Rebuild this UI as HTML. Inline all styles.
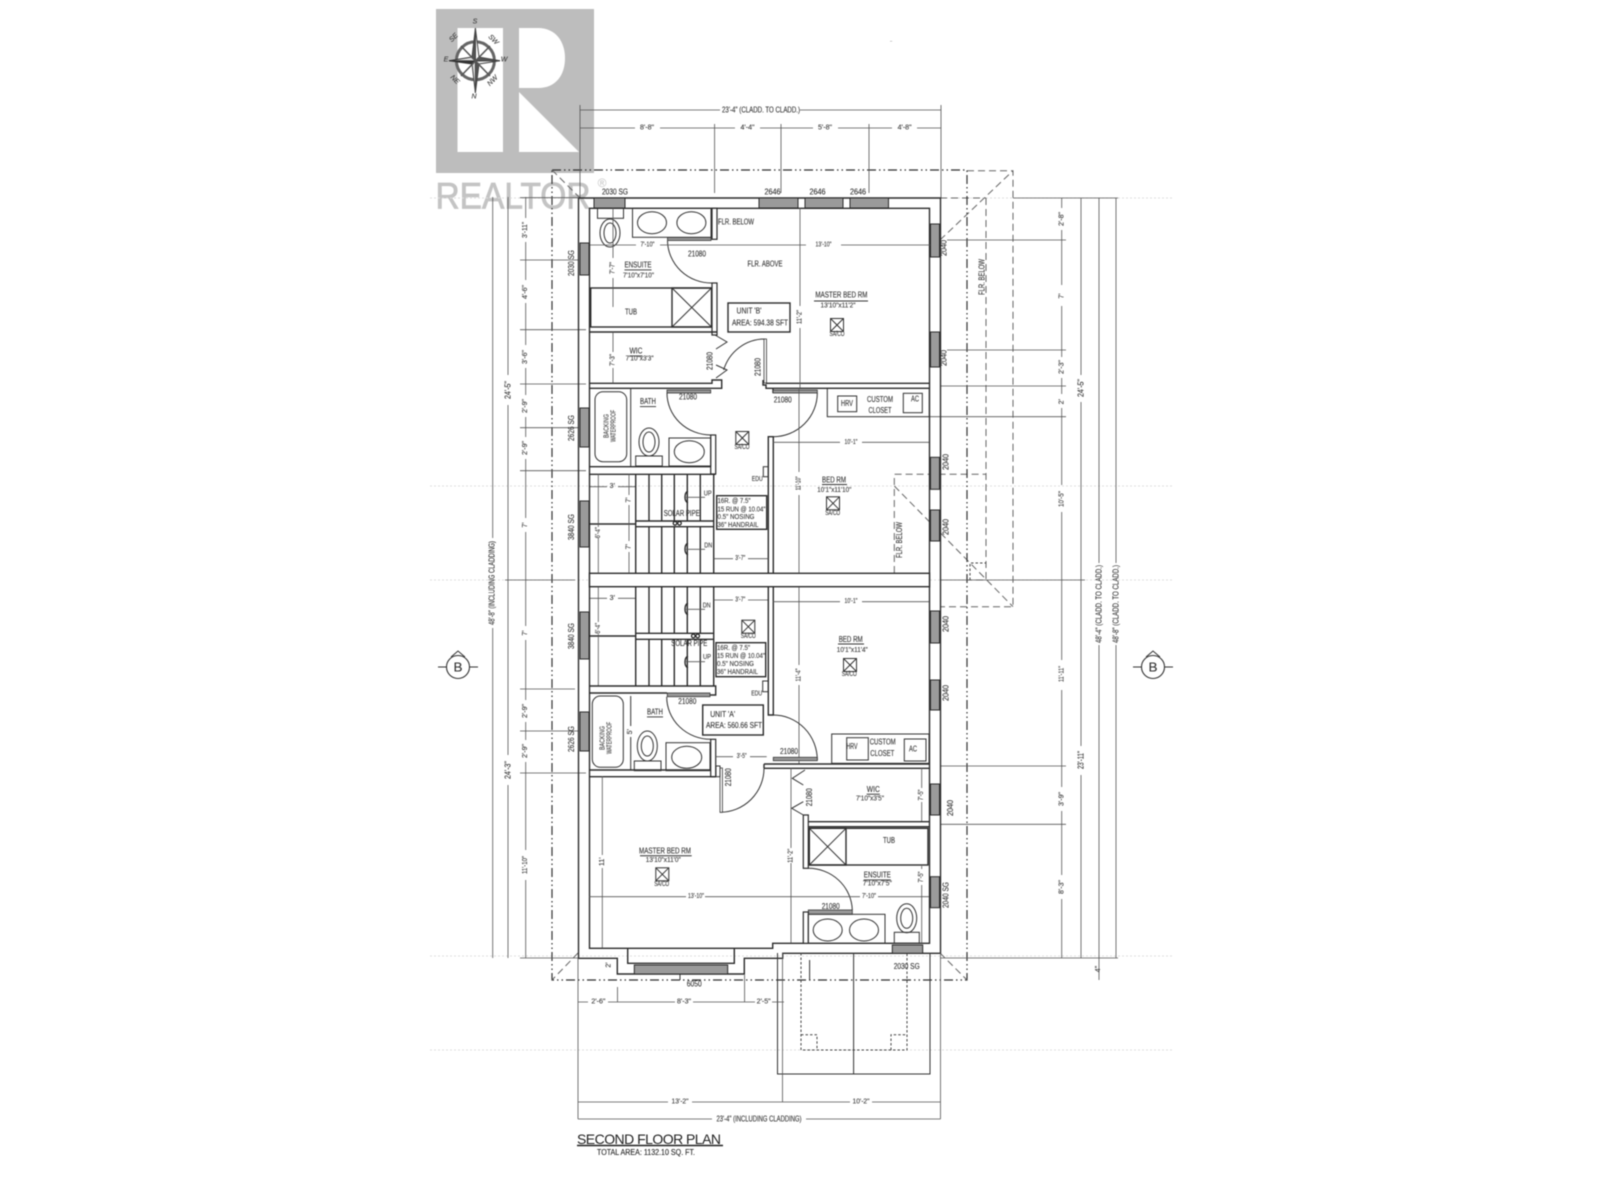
<!DOCTYPE html>
<html><head><meta charset="utf-8"><title>Second Floor Plan</title>
<style>
html,body{margin:0;padding:0;background:#fff;width:1600px;height:1200px;overflow:hidden}
svg{display:block;filter:blur(.4px)}
text{font-family:"Liberation Sans",sans-serif;fill:#333;stroke:#333;stroke-width:.12;font-size:8px;dominant-baseline:central;text-anchor:middle}
.s{font-size:7px;fill:#444}
.st{text-anchor:start}
.w{fill:none;stroke:#2b2b2b;stroke-width:1.4}
.t{fill:none;stroke:#333;stroke-width:1}
.d{fill:none;stroke:#555;stroke-width:.8}
.f{fill:#fff;stroke:#2b2b2b;stroke-width:1.2}
.win{fill:#9a9a9a;stroke:#2b2b2b;stroke-width:1}
.dot{fill:none;stroke:#ddd;stroke-width:1;stroke-dasharray:2 2}
.dd{fill:none;stroke:#666;stroke-width:1;stroke-dasharray:7 4}
.dc{fill:none;stroke:#333;stroke-width:1.2;stroke-dasharray:9 3 1.5 3 1.5 3}
.sd{fill:none;stroke:#444;stroke-width:1;stroke-dasharray:2.5 2}
</style></head><body>
<svg width="1600" height="1200" viewBox="0 0 1600 1200" xmlns="http://www.w3.org/2000/svg">
<rect width="1600" height="1200" fill="#fff"/>
<!-- logo -->
<rect x="436" y="9" width="158" height="164" fill="#bdbdbd"/>
<rect x="457.5" y="28" width="45.5" height="124" fill="#fff"/>
<path d="M519 28H538C556 28 565 42 565 58C565 75 556 88 538 88H519Z" fill="#fff"/>
<path d="M519 92L579 152H519Z" fill="#fff"/>
<text x="513" y="196" style="font-size:37px;fill:#c4c4c4;stroke:#c4c4c4;stroke-width:.8" textLength="155" lengthAdjust="spacingAndGlyphs">REALTOR</text>
<text x="602" y="183" style="font-size:12px;fill:#c4c4c4;stroke:none">®</text>
<!-- compass -->
<circle cx="475.4" cy="60.7" r="19" fill="none" stroke="#666" stroke-width="3"/>
<polygon points="475.4,28 479,57 475.4,61" fill="#fff" stroke="#444"/>
<polygon points="475.4,28 472,57 475.4,61" fill="#555" stroke="#444"/>
<polygon points="475.4,93 479,64 475.4,61" fill="#555" stroke="#444"/>
<polygon points="475.4,93 472,64 475.4,61" fill="#ddd" stroke="#444"/>
<polygon points="449,60.7 472,57 475.4,61" fill="#ddd" stroke="#333"/>
<polygon points="449,60.7 472,64 475.4,61" fill="#333" stroke="#333"/>
<polygon points="500,60.7 479,57 475.4,61" fill="#555" stroke="#444"/>
<polygon points="500,60.7 479,64 475.4,61" fill="#eee" stroke="#444"/>
<path d="M461 46L475.4 61L490 46M461 76L475.4 61L490 76" fill="none" stroke="#555" stroke-width="1.5"/>
<g style="font-style:italic">
<text x="475" y="22" class="s">S</text><text x="474" y="97" class="s">N</text><text x="446" y="60" class="s">E</text><text x="504" y="60" class="s">W</text>
<text x="454" y="38" class="s" transform="rotate(-45 454 38)">SE</text><text x="493" y="40" class="s" transform="rotate(45 493 40)">SW</text>
<text x="454.6" y="80" class="s" transform="rotate(45 454.6 80)">NE</text><text x="493" y="81" class="s" transform="rotate(-45 493 81)">NW</text>
</g>
<text x="891" y="41" class="s" style="font-size:4px">~</text>

<!-- dotted reference lines -->
<path class="dot" d="M430 198H1173M430 486H1173M430 580H1173M430 956H1173M430 1050H1173"/>

<!-- dashed outline, right side -->
<path class="dd" d="M967 170.7H1013V606.7H940M986 198V580H967M940 198H986M894.3 573V474.3H986"/>
<path class="dd" d="M940 240L1013 170.7M894.3 486L1013 606.7"/>
<path class="sd" d="M970 580V563H986"/>
<path class="dc" d="M552 170H967V980H552Z"/>
<path class="dd" d="M552 170L580 198M578 953L552 980M940 953L967 980"/>

<!-- top dims -->
<path class="d" d="M580 110H720M800 110H941M580 128H635M660 128H735M760 128H813M838 128H892M917 128H941M580 105V198M941 105V198M714.6 124V193M781 124V193M869 124V193"/>
<text x="761" y="110" textLength="78" lengthAdjust="spacingAndGlyphs">23'-4" (CLADD. TO CLADD.)</text>
<text x="647" y="128" textLength="14" lengthAdjust="spacingAndGlyphs" class="s">8'-8"</text>
<text x="747.5" y="128" textLength="14" lengthAdjust="spacingAndGlyphs" class="s">4'-4"</text>
<text x="825" y="128" textLength="14" lengthAdjust="spacingAndGlyphs" class="s">5'-8"</text>
<text x="904.6" y="128" textLength="14" lengthAdjust="spacingAndGlyphs" class="s">4'-8"</text>
<text x="615" y="192" textLength="26" lengthAdjust="spacingAndGlyphs">2030 SG</text>
<text x="772.5" y="192" textLength="16" lengthAdjust="spacingAndGlyphs">2646</text>
<text x="817.5" y="192" textLength="16" lengthAdjust="spacingAndGlyphs">2646</text>
<text x="858" y="192" textLength="16" lengthAdjust="spacingAndGlyphs">2646</text>

<!-- left dims -->
<path class="d" d="M492.7 197V538M492.7 628V958M508 197V375M508 405V755M508 785V958M525.7 197V218M525.7 242V280M525.7 303V345M525.7 368V395M525.7 417V437M525.7 459V518M525.7 532V626M525.7 640V700M525.7 722V740M525.7 762V850M525.7 880V958"/>
<path class="d" d="M520 197.7H580M520 260H578M520 329.7H586M520 384H586M520 427.7H578M520 470.7H586M505 580H575M520 689H575M520 731H578M520 773H586M520 958H578"/>
<text x="492" y="583" transform="rotate(-90 492 583)" textLength="84" lengthAdjust="spacingAndGlyphs">48'-8" (INCLUDING CLADDING)</text>
<text x="508" y="390" transform="rotate(-90 508 390)" textLength="18" lengthAdjust="spacingAndGlyphs">24'-5"</text>
<text x="508" y="770" transform="rotate(-90 508 770)" textLength="18" lengthAdjust="spacingAndGlyphs">24'-3"</text>
<text x="525.7" y="230" class="s" transform="rotate(-90 525.7 230)" textLength="16" lengthAdjust="spacingAndGlyphs">3'-11"</text>
<text x="525.7" y="292" class="s" transform="rotate(-90 525.7 292)" textLength="14" lengthAdjust="spacingAndGlyphs">4'-6"</text>
<text x="525.7" y="357" class="s" transform="rotate(-90 525.7 357)" textLength="14" lengthAdjust="spacingAndGlyphs">3'-6"</text>
<text x="525.7" y="406" class="s" transform="rotate(-90 525.7 406)" textLength="14" lengthAdjust="spacingAndGlyphs">2'-9"</text>
<text x="525.7" y="448" class="s" transform="rotate(-90 525.7 448)" textLength="14" lengthAdjust="spacingAndGlyphs">2'-9"</text>
<text x="525.7" y="525" class="s" transform="rotate(-90 525.7 525)">7'</text>
<text x="525.7" y="633" class="s" transform="rotate(-90 525.7 633)">7'</text>
<text x="525.7" y="711" class="s" transform="rotate(-90 525.7 711)" textLength="14" lengthAdjust="spacingAndGlyphs">2'-9"</text>
<text x="525.7" y="751" class="s" transform="rotate(-90 525.7 751)" textLength="14" lengthAdjust="spacingAndGlyphs">2'-9"</text>
<text x="525.7" y="865" class="s" transform="rotate(-90 525.7 865)" textLength="18" lengthAdjust="spacingAndGlyphs">11'-10"</text>
<text x="571.4" y="263" transform="rotate(-90 571.4 263)" textLength="26" lengthAdjust="spacingAndGlyphs">2030 SG</text>
<text x="571.4" y="428" transform="rotate(-90 571.4 428)" textLength="26" lengthAdjust="spacingAndGlyphs">2626 SG</text>
<text x="571.4" y="527" transform="rotate(-90 571.4 527)" textLength="26" lengthAdjust="spacingAndGlyphs">3840 SG</text>
<text x="571.4" y="636" transform="rotate(-90 571.4 636)" textLength="26" lengthAdjust="spacingAndGlyphs">3840 SG</text>
<text x="571.4" y="739" transform="rotate(-90 571.4 739)" textLength="26" lengthAdjust="spacingAndGlyphs">2626 SG</text>

<!-- right dims -->
<path class="d" d="M1013 198H1118M947 240H1066M947 350H1066M940 386H1066M930 416.7H1066M940 580H1085M940 766H1066M940 824.3H1066M940 958H1118"/>
<path class="d" d="M1061.7 198V208M1061.7 230V285M1061.7 306V357M1061.7 378V394M1061.7 408V485M1061.7 512V660M1061.7 690V787M1061.7 811V875M1061.7 899V958M1081 198V375M1081 402V746M1081 775V958M1099 198V563M1099 645V958M1116 198V563M1116 645V958M1099 958V980"/>
<text x="1062" y="219" class="s" transform="rotate(-90 1062 219)" textLength="14" lengthAdjust="spacingAndGlyphs">2'-8"</text>
<text x="1062" y="296" class="s" transform="rotate(-90 1062 296)">7'</text>
<text x="1062" y="367" class="s" transform="rotate(-90 1062 367)" textLength="14" lengthAdjust="spacingAndGlyphs">2'-3"</text>
<text x="1062" y="401.7" class="s" transform="rotate(-90 1062 401.7)">2'</text>
<text x="1062" y="499" class="s" transform="rotate(-90 1062 499)" textLength="16" lengthAdjust="spacingAndGlyphs">10'-5"</text>
<text x="1062" y="674" class="s" transform="rotate(-90 1062 674)" textLength="16" lengthAdjust="spacingAndGlyphs">11'-11"</text>
<text x="1062" y="799" class="s" transform="rotate(-90 1062 799)" textLength="14" lengthAdjust="spacingAndGlyphs">3'-9"</text>
<text x="1062" y="887" class="s" transform="rotate(-90 1062 887)" textLength="14" lengthAdjust="spacingAndGlyphs">8'-3"</text>
<text x="1081" y="388" transform="rotate(-90 1081 388)" textLength="18" lengthAdjust="spacingAndGlyphs">24'-5"</text>
<text x="1081" y="760" transform="rotate(-90 1081 760)" textLength="18" lengthAdjust="spacingAndGlyphs">23'-11"</text>
<text x="1099" y="604" transform="rotate(-90 1099 604)" textLength="78" lengthAdjust="spacingAndGlyphs">48'-4" (CLADD. TO CLADD.)</text>
<text x="1116" y="604" transform="rotate(-90 1116 604)" textLength="78" lengthAdjust="spacingAndGlyphs">48'-8" (CLADD. TO CLADD.)</text>
<text x="1098.5" y="969" class="s" transform="rotate(-90 1098.5 969)">4"</text>
<text x="982" y="277" transform="rotate(-90 982 277)" textLength="36" lengthAdjust="spacingAndGlyphs">FLR. BELOW</text>

<!-- B markers -->
<path class="t" d="M438 667H478M451 657L458 651L465 657"/><circle cx="458" cy="667" r="11.5" fill="#fff" stroke="#333" stroke-width="1.1"/><text x="458" y="667" style="font-size:13px" textLength="9" lengthAdjust="spacingAndGlyphs">B</text>
<path class="t" d="M1133 667H1173M1146 657L1153 651L1160 657"/><circle cx="1153" cy="667" r="11.5" fill="#fff" stroke="#333" stroke-width="1.1"/><text x="1153" y="667" style="font-size:13px" textLength="9" lengthAdjust="spacingAndGlyphs">B</text>

<!-- exterior walls -->
<path class="w" d="M579 198H940.5V953.3H782.7V958.3H744.3V974H617.3V958.3H578.5V198"/>
<path class="w" d="M589.5 208.3H929.5V943.3H772.7V948.3H589.5Z"/>
<path class="w" d="M627.7 948.3V963.3H734.3V948.3"/>
<rect x="589.5" y="573.3" width="340" height="13.4" fill="#fff" stroke="#2b2b2b" stroke-width="1.4"/>
<!-- windows -->
<g class="win">
<rect x="594" y="198" width="31" height="10"/><rect x="759" y="198" width="39" height="10"/><rect x="805" y="198" width="38" height="10"/><rect x="850" y="198" width="38.5" height="10"/>
<rect x="580" y="243" width="9" height="32"/><rect x="580" y="408" width="9" height="39"/><rect x="580" y="501" width="9" height="46"/><rect x="580" y="612" width="9" height="47"/><rect x="580" y="712" width="9" height="39"/>
<rect x="930.5" y="224" width="9" height="33"/><rect x="930.5" y="332" width="9" height="35"/><rect x="930.5" y="457.3" width="9" height="32"/><rect x="930.5" y="510" width="9" height="31"/><rect x="930.5" y="611" width="9" height="32"/><rect x="930.5" y="680" width="9" height="30"/><rect x="930.5" y="784" width="9" height="31"/><rect x="930.5" y="876.7" width="9" height="31"/>
<rect x="634.3" y="965" width="93.4" height="9"/><rect x="892.3" y="945" width="30.4" height="8.3"/>
</g>
<path class="t" d="M680 974V980"/>
<text x="944" y="248" transform="rotate(-90 944 248)" textLength="16" lengthAdjust="spacingAndGlyphs">2040</text>
<text x="944" y="358" transform="rotate(-90 944 358)" textLength="16" lengthAdjust="spacingAndGlyphs">2040</text>
<text x="946" y="462" transform="rotate(-90 946 462)" textLength="16" lengthAdjust="spacingAndGlyphs">2040</text>
<text x="946" y="527" transform="rotate(-90 946 527)" textLength="16" lengthAdjust="spacingAndGlyphs">2040</text>
<text x="946" y="624" transform="rotate(-90 946 624)" textLength="16" lengthAdjust="spacingAndGlyphs">2040</text>
<text x="946" y="693" transform="rotate(-90 946 693)" textLength="16" lengthAdjust="spacingAndGlyphs">2040</text>
<text x="950.7" y="808" transform="rotate(-90 950.7 808)" textLength="16" lengthAdjust="spacingAndGlyphs">2040</text>
<text x="946" y="895" transform="rotate(-90 946 895)" textLength="26" lengthAdjust="spacingAndGlyphs">2040 SG</text>
<text x="906.7" y="966.7" textLength="26" lengthAdjust="spacingAndGlyphs">2030 SG</text>
<text x="694.3" y="984" textLength="15" lengthAdjust="spacingAndGlyphs">6050</text>

<!-- Unit B upper -->
<rect x="632.5" y="208.3" width="78.5" height="29" class="t"/>
<ellipse cx="652" cy="222.7" rx="14.5" ry="11" class="t"/><ellipse cx="691.4" cy="222.7" rx="14.5" ry="11" class="t"/>
<rect x="597.5" y="208.3" width="26" height="10" class="t"/><ellipse cx="610" cy="233" rx="10" ry="14" class="t"/><ellipse cx="610" cy="233" rx="6" ry="10" class="t"/>
<rect x="712" y="208.3" width="5" height="31" class="f"/>
<rect x="667.5" y="237.5" width="43.5" height="3" fill="#999" stroke="#333" stroke-width=".8"/>
<path class="t" d="M667.5 240.7A44 43 0 0 0 712 283"/>
<rect x="712" y="283" width="5" height="52" class="f"/>
<rect x="590.7" y="288" width="121" height="39" class="w"/>
<rect x="672" y="288" width="39.5" height="39" class="w" stroke-width="2"/><path class="t" d="M672 288L711.5 327M711.5 288L672 327"/>
<path class="w" d="M589.5 332H717"/>
<path class="t" d="M715 335L727 342L716 349M716 365L727 370L716 378"/>
<path class="w" d="M589.5 383.3H712V380H721.7V388.3H712"/>
<path class="w" d="M589.5 388.3H712"/>
<path class="t" d="M764.6 339A43 44 0 0 0 723.6 370"/><rect x="764" y="339" width="2.5" height="44" fill="#fff" stroke="#333" stroke-width=".8"/>
<path class="w" d="M763 380V385H766V388.3H773V393M766 383.3H929.5M773 388.3H929.5"/>
<path class="d" d="M590 245H636M660 245H713M713 245H806M841 245H930M613 208V258M613 278V307M613 332V352M613 368V383M800 208V306M800 328V388"/>
<text x="647.5" y="245" class="s" textLength="14" lengthAdjust="spacingAndGlyphs">7'-10"</text>
<text x="823.5" y="245" class="s" textLength="16" lengthAdjust="spacingAndGlyphs">13'-10"</text>
<text x="613" y="268" class="s" transform="rotate(-90 613 268)" textLength="12" lengthAdjust="spacingAndGlyphs">7'-7"</text>
<text x="613" y="360" class="s" transform="rotate(-90 613 360)" textLength="12" lengthAdjust="spacingAndGlyphs">7'-3"</text>
<text x="800" y="317" class="s" transform="rotate(-90 800 317)" textLength="14" lengthAdjust="spacingAndGlyphs">11'-2"</text>
<text x="736" y="222" textLength="36" lengthAdjust="spacingAndGlyphs">FLR. BELOW</text>
<text x="765" y="264" textLength="35" lengthAdjust="spacingAndGlyphs">FLR. ABOVE</text>
<text x="697" y="254" textLength="18" lengthAdjust="spacingAndGlyphs">21080</text>
<text x="638" y="265" textLength="27" lengthAdjust="spacingAndGlyphs" style="text-decoration:underline">ENSUITE</text>
<text x="638.5" y="276" class="s" textLength="31" lengthAdjust="spacingAndGlyphs">7'10"x7'10"</text>
<text x="631" y="312" textLength="12" lengthAdjust="spacingAndGlyphs">TUB</text>
<text x="636" y="351" textLength="13" lengthAdjust="spacingAndGlyphs" style="text-decoration:underline">WIC</text>
<text x="639.6" y="359" class="s" textLength="28" lengthAdjust="spacingAndGlyphs">7'10"x3'3"</text>
<text x="710" y="361" transform="rotate(-90 710 361)" textLength="18" lengthAdjust="spacingAndGlyphs">21080</text>
<text x="758" y="367" transform="rotate(-90 758 367)" textLength="18" lengthAdjust="spacingAndGlyphs">21080</text>
<text x="841.4" y="295" textLength="52" lengthAdjust="spacingAndGlyphs">MASTER BED RM</text><path class="t" d="M814 301H868"/>
<text x="838" y="306" class="s" textLength="35" lengthAdjust="spacingAndGlyphs">13'10"x11'2"</text>
<rect x="830.5" y="318.5" width="13" height="13" class="t"/><path class="t" d="M830.5 318.5L843.5 331.5M843.5 318.5L830.5 331.5"/>
<text x="837" y="334.5" class="s" textLength="15" lengthAdjust="spacingAndGlyphs">SA/CO</text>
<rect x="728" y="303" width="62" height="29" class="w" fill="#fff"/>
<text x="749" y="311" textLength="25" lengthAdjust="spacingAndGlyphs">UNIT 'B'</text>
<text x="760" y="323" textLength="56" lengthAdjust="spacingAndGlyphs">AREA: 594.38 SFT</text>

<!-- Bath upper -->
<rect x="595" y="391.7" width="31.7" height="70" rx="8" class="t"/>
<path class="t" d="M630.7 388V467"/>
<text x="607" y="426" class="s" transform="rotate(-90 607 426)" textLength="24" lengthAdjust="spacingAndGlyphs">BACKING</text>
<text x="614" y="426" class="s" transform="rotate(-90 614 426)" textLength="32" lengthAdjust="spacingAndGlyphs">WATERPROOF</text>
<text x="648" y="401.7" textLength="16" lengthAdjust="spacingAndGlyphs" style="text-decoration:underline">BATH</text>
<rect x="667" y="390" width="43.7" height="3" fill="#999" stroke="#333" stroke-width=".8"/>
<text x="688" y="397" textLength="18" lengthAdjust="spacingAndGlyphs">21080</text>
<path class="t" d="M667 393A44 42 0 0 0 710.7 435"/>
<rect x="710.7" y="435" width="5" height="39" class="f"/>
<ellipse cx="649" cy="442" rx="10" ry="14" class="t"/><ellipse cx="649" cy="442" rx="6" ry="10" class="t"/><rect x="635.7" y="456" width="26.6" height="10" class="t"/>
<rect x="669" y="438" width="41.7" height="28" class="t"/><ellipse cx="689.3" cy="451.7" rx="15" ry="11" class="t"/>
<path class="w" d="M589.5 466.7H710.7M589.5 474.3H715.7"/>
<rect x="735.8" y="431.5" width="13" height="13" class="t"/><path class="t" d="M735.8 431.5L748.8 444.5M748.8 431.5L735.8 444.5"/>
<text x="742" y="447.7" class="s" textLength="15" lengthAdjust="spacingAndGlyphs">SA/CO</text>
<path class="w" d="M768.3 573.3V436.7H773.3V573.3"/>
<rect x="763.3" y="466.7" width="5" height="10" class="t"/><text x="757.3" y="479.3" class="s" textLength="11" lengthAdjust="spacingAndGlyphs">EDU</text>
<rect x="773" y="390" width="44.3" height="3" fill="#999" stroke="#333" stroke-width=".8"/>
<text x="782.7" y="400" textLength="18" lengthAdjust="spacingAndGlyphs">21080</text>
<path class="t" d="M817.3 393A44 43.7 0 0 1 773.3 436.7"/>
<rect x="827.3" y="388.3" width="102" height="28.4" class="t"/>
<rect x="837.7" y="396" width="19" height="15.7" class="t"/><text x="847" y="403.5" textLength="12" lengthAdjust="spacingAndGlyphs">HRV</text>
<text x="880" y="399.3" textLength="26" lengthAdjust="spacingAndGlyphs">CUSTOM</text><text x="880" y="410.7" textLength="23" lengthAdjust="spacingAndGlyphs">CLOSET</text>
<rect x="903.3" y="393.3" width="19" height="19.4" class="t"/><text x="915" y="399" textLength="8" lengthAdjust="spacingAndGlyphs">AC</text>
<path class="d" d="M773 442.3H840M862 442.3H929M799 388V472M799 495V573"/>
<text x="851" y="442.3" class="s" textLength="13" lengthAdjust="spacingAndGlyphs">10'-1"</text>
<text x="799" y="483.3" class="s" transform="rotate(-90 799 483.3)" textLength="14" lengthAdjust="spacingAndGlyphs">11'-10"</text>
<text x="834" y="480" textLength="24" lengthAdjust="spacingAndGlyphs">BED RM</text><path class="t" d="M822 484.5H847"/>
<text x="834.3" y="490.7" class="s" textLength="34" lengthAdjust="spacingAndGlyphs">10'1"x11'10"</text>
<rect x="826.5" y="496.8" width="13" height="13" class="t"/><path class="t" d="M826.5 496.8L839.5 509.8M839.5 496.8L826.5 509.8"/>
<text x="832.7" y="513.3" class="s" textLength="15" lengthAdjust="spacingAndGlyphs">SA/CO</text>
<text x="899.3" y="540" transform="rotate(-90 899.3 540)" textLength="36" lengthAdjust="spacingAndGlyphs">FLR. BELOW</text>

<!-- stairs upper -->
<path class="w" d="M635.7 474.3V573.3M713.7 474.3V573.3M649 474.3V521M661.7 474.3V521M674.3 474.3V521M687.3 474.3V521M700.3 474.3V521M649 526.7V573.3M661.7 526.7V573.3M674.3 526.7V573.3M687.3 526.7V573.3M700.3 526.7V573.3M635.7 521H713.7M635.7 526.7H713.7M589.5 524H635.7"/>
<path class="d" d="M590 486.7H607M618 486.7H635M598.3 474V527M598.3 538V573M629 474V495M629 505V541M629 552V573M713.7 558.7H733M748 558.7H768.3"/>
<text x="612.3" y="486.7" class="s">3'</text>
<text x="598.3" y="532.7" class="s" transform="rotate(-90 598.3 532.7)" textLength="11" lengthAdjust="spacingAndGlyphs">6'-4"</text>
<text x="629" y="500" class="s" transform="rotate(-90 629 500)">7'</text><text x="629" y="546.7" class="s" transform="rotate(-90 629 546.7)">7'</text>
<text x="740.3" y="558.7" class="s" textLength="10" lengthAdjust="spacingAndGlyphs">3'-7"</text>
<path class="w" d="M688 491C684 493 684 501 688 503"/><path class="d" d="M686 497.3H705M686 549.3H705"/><path class="w" d="M688 543C684 545 684 553 688 555"/>
<text x="707.7" y="494" class="s" textLength="8" lengthAdjust="spacingAndGlyphs">UP</text><text x="708.3" y="546" class="s" textLength="8" lengthAdjust="spacingAndGlyphs">DN</text>
<text x="681.7" y="513.3" textLength="36" lengthAdjust="spacingAndGlyphs">SOLAR PIPE</text>
<circle cx="675" cy="523.3" r="1.8" fill="none" stroke="#222" stroke-width="1.2"/><circle cx="679.5" cy="523.3" r="1.8" fill="none" stroke="#222" stroke-width="1.2"/>
<rect x="716.7" y="495.7" width="50" height="33.6" class="w"/>
<text x="717.5" y="501.7" class="st s" textLength="33" lengthAdjust="spacingAndGlyphs">16R. @ 7.5"</text>
<text x="717.5" y="510" class="st s" textLength="48" lengthAdjust="spacingAndGlyphs">15 RUN @ 10.04"</text>
<text x="717.5" y="517.3" class="st s" textLength="37" lengthAdjust="spacingAndGlyphs">0.5" NOSING</text>
<text x="717.5" y="525.7" class="st s" textLength="41" lengthAdjust="spacingAndGlyphs">36" HANDRAIL</text>

<!-- stairs lower -->
<path class="w" d="M635.7 586.7V686M713.7 586.7V686M649 586.7V633.3M661.7 586.7V633.3M674.3 586.7V633.3M687.3 586.7V633.3M700.3 586.7V633.3M649 639.3V686M661.7 639.3V686M674.3 639.3V686M687.3 639.3V686M700.3 639.3V686M635.7 633.3H713.7M635.7 639.3H713.7M589.5 636H635.7"/>
<path class="d" d="M590 598.3H607M618 598.3H635M598.3 587V622M598.3 634V686M713.7 600H733M748 600H768.3"/>
<text x="612.3" y="598.3" class="s">3'</text>
<text x="598.3" y="628.3" class="s" transform="rotate(-90 598.3 628.3)" textLength="11" lengthAdjust="spacingAndGlyphs">6'-4"</text>
<text x="740.3" y="600" class="s" textLength="10" lengthAdjust="spacingAndGlyphs">3'-7"</text>
<path class="w" d="M688 603C684 605 684 613 688 615"/><path class="w" d="M688 656C684 658 684 666 688 668"/><path class="d" d="M686 609.3H705M686 661.7H705"/>
<text x="706.7" y="606" class="s" textLength="8" lengthAdjust="spacingAndGlyphs">DN</text><text x="707" y="657.7" class="s" textLength="8" lengthAdjust="spacingAndGlyphs">UP</text>
<text x="689.3" y="643.3" textLength="36" lengthAdjust="spacingAndGlyphs">SOLAR PIPE</text>
<circle cx="693.3" cy="636" r="1.8" fill="none" stroke="#222" stroke-width="1.2"/><circle cx="697.7" cy="636" r="1.8" fill="none" stroke="#222" stroke-width="1.2"/>
<rect x="741.8" y="620.2" width="13" height="13" class="t"/><path class="t" d="M741.8 620.2L754.8 633.2M754.8 620.2L741.8 633.2"/>
<text x="748.3" y="636.3" class="s" textLength="15" lengthAdjust="spacingAndGlyphs">SA/CO</text>
<rect x="716" y="642.7" width="49.7" height="34" class="w"/>
<text x="717" y="648.3" class="st s" textLength="33" lengthAdjust="spacingAndGlyphs">16R. @ 7.5"</text>
<text x="717" y="656.7" class="st s" textLength="48" lengthAdjust="spacingAndGlyphs">15 RUN @ 10.04"</text>
<text x="717" y="664.3" class="st s" textLength="37" lengthAdjust="spacingAndGlyphs">0.5" NOSING</text>
<text x="717" y="672.7" class="st s" textLength="41" lengthAdjust="spacingAndGlyphs">36" HANDRAIL</text>
<path class="w" d="M768.3 586.7V715H773.3V586.7"/>
<path class="d" d="M773 601.7H840M862 601.7H929M799 587V665M799 685V764"/>
<text x="851" y="601.7" class="s" textLength="13" lengthAdjust="spacingAndGlyphs">10'-1"</text>
<text x="799" y="675" class="s" transform="rotate(-90 799 675)" textLength="13" lengthAdjust="spacingAndGlyphs">11'-4"</text>
<text x="850.7" y="639.3" textLength="24" lengthAdjust="spacingAndGlyphs">BED RM</text><path class="t" d="M838 644H864"/>
<text x="852.3" y="650.3" class="s" textLength="31" lengthAdjust="spacingAndGlyphs">10'1"x11'4"</text>
<rect x="843.5" y="658.5" width="13" height="13" class="t"/><path class="t" d="M843.5 658.5L856.5 671.5M856.5 658.5L843.5 671.5"/>
<text x="849.3" y="674.3" class="s" textLength="15" lengthAdjust="spacingAndGlyphs">SA/CO</text>

<!-- Bath lower -->
<rect x="762.7" y="681" width="5.6" height="10.7" class="t"/><text x="756.7" y="694" class="s" textLength="11" lengthAdjust="spacingAndGlyphs">EDU</text>
<path class="w" d="M589.5 686H715.7V695H710M589.5 693H667"/>
<rect x="667.3" y="693" width="42.7" height="3.7" fill="#999" stroke="#333" stroke-width=".8"/>
<text x="687.3" y="701.7" textLength="18" lengthAdjust="spacingAndGlyphs">21080</text>
<path class="t" d="M666.7 696.7A44 42.6 0 0 0 710.7 739.3"/>
<rect x="710.7" y="739.3" width="5" height="37.4" class="f"/>
<path class="w" d="M589.5 770H710.7M589.5 776.7H715.7"/>
<rect x="592.3" y="696" width="31" height="71.3" rx="8" class="t"/>
<text x="603" y="738" class="s" transform="rotate(-90 603 738)" textLength="24" lengthAdjust="spacingAndGlyphs">BACKING</text>
<text x="610" y="738" class="s" transform="rotate(-90 610 738)" textLength="32" lengthAdjust="spacingAndGlyphs">WATERPROOF</text>
<path class="t" d="M630.7 696V726M630.7 737V770"/><text x="630.7" y="731.7" class="s" transform="rotate(-90 630.7 731.7)">5'</text>
<text x="655" y="712" textLength="16" lengthAdjust="spacingAndGlyphs" style="text-decoration:underline">BATH</text>
<ellipse cx="647.3" cy="746" rx="10" ry="15" class="t"/><ellipse cx="647.3" cy="746" rx="6" ry="10" class="t"/><rect x="634.3" y="761" width="26.7" height="9.7" class="t"/>
<rect x="666" y="742.7" width="44" height="28" class="t"/><ellipse cx="686.7" cy="757.3" rx="15" ry="11" class="t"/>
<rect x="702.7" y="705" width="60.6" height="30" class="w" fill="#fff"/>
<text x="722.7" y="714.3" textLength="25" lengthAdjust="spacingAndGlyphs">UNIT 'A'</text>
<text x="734" y="725.3" textLength="56" lengthAdjust="spacingAndGlyphs">AREA: 560.66 SFT</text>
<path class="t" d="M773.3 715A44 45 0 0 1 817.3 760"/>
<rect x="773.3" y="757.3" width="44" height="3.4" fill="#999" stroke="#333" stroke-width=".8"/>
<text x="789" y="751.7" textLength="18" lengthAdjust="spacingAndGlyphs">21080</text>
<path class="d" d="M715.7 756.7H733M750 756.7H766.7"/><text x="741.7" y="756.7" class="s" textLength="10" lengthAdjust="spacingAndGlyphs">3'-5"</text>
<path class="w" d="M764 768.3H929.5M764 764H929.5M764 764V768.3"/>
<rect x="831.7" y="734" width="97.3" height="29.3" class="t"/>
<rect x="846.7" y="737.7" width="21.6" height="22.3" class="t"/><text x="852" y="746.7" textLength="11" lengthAdjust="spacingAndGlyphs">HRV</text>
<text x="882.7" y="742" textLength="26" lengthAdjust="spacingAndGlyphs">CUSTOM</text><text x="882.3" y="753.3" textLength="24" lengthAdjust="spacingAndGlyphs">CLOSET</text>
<rect x="904.3" y="739" width="21.7" height="22" class="t"/><text x="913" y="749" textLength="8" lengthAdjust="spacingAndGlyphs">AC</text>
<path class="t" d="M764 768.3A44 44 0 0 1 720 812.3"/><rect x="720" y="768" width="2.4" height="44.3" fill="#fff" stroke="#333" stroke-width=".8"/>
<rect x="716" y="766" width="4" height="10.7" class="t"/>
<text x="728.3" y="777.3" transform="rotate(-90 728.3 777.3)" textLength="18" lengthAdjust="spacingAndGlyphs">21080</text>
<path class="t" d="M805 770L792.3 778.3L803.3 785M803.3 801.7L791.7 808.3L803.3 815"/>
<text x="809.3" y="797.3" transform="rotate(-90 809.3 797.3)" textLength="18" lengthAdjust="spacingAndGlyphs">21080</text>
<rect x="803.3" y="815" width="5" height="53.3" class="f"/>
<path class="w" d="M808.3 821.7H929.5M808.3 826.7H929.5"/>
<rect x="809.3" y="828.3" width="118.7" height="36.7" class="w"/>
<rect x="809.3" y="828.3" width="36.7" height="36.7" class="w" stroke-width="2"/><path class="t" d="M809.3 828.3L846 865M846 828.3L809.3 865"/>
<text x="889" y="840.7" textLength="12" lengthAdjust="spacingAndGlyphs">TUB</text>
<text x="873.3" y="789.3" textLength="13" lengthAdjust="spacingAndGlyphs" style="text-decoration:underline">WIC</text>
<text x="870" y="799" class="s" textLength="28" lengthAdjust="spacingAndGlyphs">7'10"x3'5"</text>
<text x="877.3" y="875" textLength="27" lengthAdjust="spacingAndGlyphs" style="text-decoration:underline">ENSUITE</text>
<text x="877.3" y="884" class="s" textLength="29" lengthAdjust="spacingAndGlyphs">7'10"x7'5"</text>
<path class="d" d="M921.7 768V788M921.7 802V821M921.7 866V869M921.7 885V943"/>
<text x="921.7" y="795" class="s" transform="rotate(-90 921.7 795)" textLength="11" lengthAdjust="spacingAndGlyphs">7'-5"</text>
<text x="921.7" y="877" class="s" transform="rotate(-90 921.7 877)" textLength="11" lengthAdjust="spacingAndGlyphs">7'-5"</text>
<path class="t" d="M808.3 868.3A44 43 0 0 1 852.3 910"/>
<rect x="808.3" y="910" width="44" height="4.3" fill="#999" stroke="#333" stroke-width=".8"/>
<text x="830.7" y="906.7" textLength="18" lengthAdjust="spacingAndGlyphs">21080</text>
<rect x="803.3" y="912" width="5" height="31.3" class="f"/>
<rect x="808.3" y="914.3" width="76.7" height="29" class="t"/>
<ellipse cx="827.7" cy="930" rx="14.5" ry="11" class="t"/><ellipse cx="864" cy="930" rx="14.5" ry="11" class="t"/>
<ellipse cx="906.7" cy="918.3" rx="10" ry="14.5" class="t"/><ellipse cx="906.7" cy="918.3" rx="6" ry="10" class="t"/><rect x="894.3" y="932.3" width="25" height="11" class="t"/>

<!-- Master lower labels -->
<text x="665" y="851" textLength="52" lengthAdjust="spacingAndGlyphs">MASTER BED RM</text><path class="t" d="M640 855.7H691.7"/>
<text x="663.3" y="860.3" class="s" textLength="35" lengthAdjust="spacingAndGlyphs">13'10"x11'0"</text>
<rect x="655.8" y="867.8" width="13" height="13" class="t"/><path class="t" d="M655.8 867.8L668.8 880.8M668.8 867.8L655.8 880.8"/>
<text x="661.7" y="884.3" class="s" textLength="15" lengthAdjust="spacingAndGlyphs">SA/CO</text>
<path class="d" d="M589 896.7H686M705 896.7H803M803 896.7H860M878 896.7H929M602.3 776V855M602.3 868V948M791 768V848M791 863V943"/>
<text x="696" y="896.7" class="s" textLength="16" lengthAdjust="spacingAndGlyphs">13'-10"</text>
<text x="869" y="896.7" class="s" textLength="14" lengthAdjust="spacingAndGlyphs">7'-10"</text>
<text x="602.3" y="861.7" class="s" transform="rotate(-90 602.3 861.7)">11'</text>
<text x="791" y="855.7" class="s" transform="rotate(-90 791 855.7)" textLength="14" lengthAdjust="spacingAndGlyphs">11'-2"</text>
<text x="609" y="965" class="s" transform="rotate(-90 609 965)">2'</text>

<!-- porch -->
<path class="t" d="M777.5 953V1074H930V953M853.6 953V1074"/>
<path class="sd" d="M801 953V1050H907V953M801 1034.7H817V1050M891 1050V1034.7H907"/>
<path class="t" d="M809.6 960V980"/>

<!-- bottom dims -->
<path class="d" d="M578 958V1119M617.5 987V1002M744.6 975V1002M782.5 953V1102M940.5 953V1119M578 1002H588M608 1002H675M693 1002H755M772 1002H784M578 1102H668M692 1102H850M872 1102H940.5M578 1119H712M806 1119H940.5"/>
<text x="598.4" y="1002" class="s" textLength="14" lengthAdjust="spacingAndGlyphs">2'-6"</text>
<text x="684" y="1002" class="s" textLength="14" lengthAdjust="spacingAndGlyphs">8'-3"</text>
<text x="763.7" y="1002" class="s" textLength="14" lengthAdjust="spacingAndGlyphs">2'-5"</text>
<text x="680" y="1102" class="s" textLength="17" lengthAdjust="spacingAndGlyphs">13'-2"</text>
<text x="861" y="1102" class="s" textLength="17" lengthAdjust="spacingAndGlyphs">10'-2"</text>
<text x="759" y="1119" textLength="85" lengthAdjust="spacingAndGlyphs">23'-4" (INCLUDING CLADDING)</text>

<!-- title -->
<text x="577" y="1139" class="st" style="font-size:14px;fill:#222;stroke:none" textLength="144" lengthAdjust="spacing">SECOND  FLOOR  PLAN</text>
<path d="M577 1145.5H723" stroke="#222" stroke-width="1.6"/>
<text x="646" y="1152" style="font-size:8.5px;fill:#222" textLength="98" lengthAdjust="spacingAndGlyphs">TOTAL AREA: 1132.10 SQ. FT.</text>
</svg>
</body></html>
